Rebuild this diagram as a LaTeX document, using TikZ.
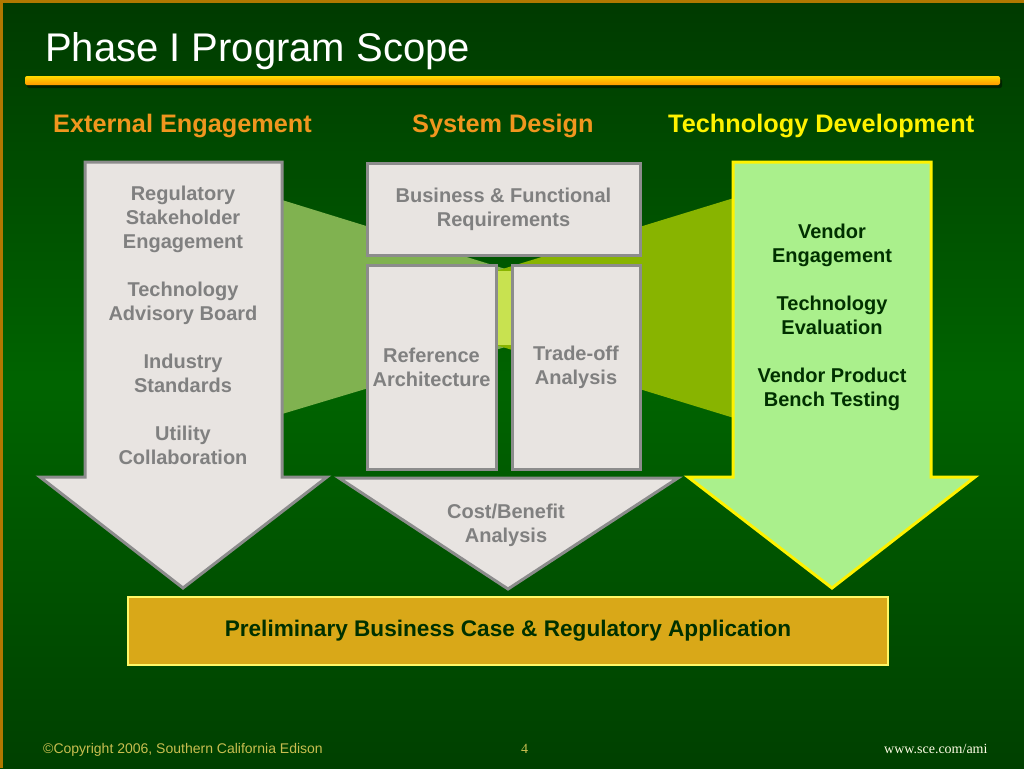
\documentclass[tikz,border=0pt]{standalone}
\usepackage{fontspec}
\setmainfont{Liberation Sans}
\newfontfamily\timesfont{Liberation Serif}
\usepackage{tikz}
\usepackage{xcolor}
\definecolor{bgtop}{RGB}{0,58,0}
\definecolor{bgmid}{RGB}{0,100,0}
\definecolor{bgbot}{RGB}{0,64,0}
\definecolor{frameorange}{RGB}{176,120,0}
\definecolor{headorange}{RGB}{240,150,30}
\definecolor{boxgray}{RGB}{232,228,225}
\definecolor{linegray}{RGB}{140,140,140}
\definecolor{textgray}{RGB}{128,128,128}
\definecolor{techgreen}{RGB}{170,240,140}
\definecolor{darktext}{RGB}{0,48,0}
\definecolor{funnelleft}{RGB}{128,178,80}
\definecolor{funnelright}{RGB}{136,180,0}
\definecolor{funnelmix}{RGB}{200,226,80}
\definecolor{casegold}{RGB}{217,168,24}
\definecolor{footkhaki}{RGB}{200,190,80}
\tikzstyle{graybox}=[fill=boxgray,draw=linegray,line width=3pt]
\tikzstyle{greenbox}=[fill=techgreen,draw=yellow,line width=3pt]
\tikzstyle{boxtext}=[inner sep=0,align=center,font=\bfseries\fontsize{20}{24}\selectfont]
\tikzstyle{header}=[inner sep=0,anchor=base west,font=\bfseries\fontsize{25.3}{28}\selectfont]
\tikzstyle{footer}=[inner sep=0,anchor=base west,font=\fontsize{14}{16}\selectfont]

\begin{document}
\begin{tikzpicture}[x=1pt,y=-1pt]
  \useasboundingbox (0,0) rectangle (1024,768);
  \shade[top color=bgtop,bottom color=bgbot,middle color=bgmid] (0,0) rectangle (1024,768);
  \draw[frameorange,line width=3pt] (1.5,768) -- (1.5,1.5) -- (1024,1.5);

  % title and rule
  \node[inner sep=0,anchor=base west,text=white,font=\fontsize{40}{48}\selectfont] (title) at (45,62) {Phase I Program Scope};
  \fill[black,opacity=0.45,rounded corners=2] (27,79) rectangle (1002,88);
  \shade[top color=yellow!70!orange,bottom color=orange!80!yellow,rounded corners=2] (25,76) rectangle (1000,85);

  % column headers
  \node[header,text=headorange] (ext) at (53,132) {External Engagement};
  \node[header,text=headorange] (sys) at (412,132) {System Design};
  \node[header,text=yellow] (tech) at (668,132) {Technology Development};

  % light funnels behind the middle column
  \fill[funnelleft] (282,200) -- (512,271) -- (512,345) -- (282,414) -- cycle;
  \fill[funnelright] (734,198) -- (496,271) -- (496,345) -- (734,418) -- cycle;
  \fill[funnelmix] (496,271) rectangle (512,345);

  % left arrow
  \draw[graybox] (85,162) -- (282,162) -- (282,477) -- (327,477) -- (183,588)
    -- (40,477) -- (85,477) -- cycle;
  \node[boxtext,text=textgray,anchor=north] (extlist) at (183,186)
    {Regulatory\\Stakeholder\\Engagement\\[24pt]Technology\\Advisory Board\\[24pt]Industry\\Standards\\[24pt]Utility\\Collaboration};

  % middle column
  \draw[graybox] (339,478) -- (678,478) -- (508,589) -- cycle;
  \node[boxtext,text=textgray,anchor=north] (cost) at (506,504) {Cost/Benefit\\Analysis};
  \node[graybox,boxtext,text=textgray,minimum width=273,minimum height=92] (req) at (503.5,209)
    {Business \& Functional\\Requirements};
  \node[graybox,boxtext,text=textgray,minimum width=129,minimum height=204] (arch) at (431.5,367)
    {Reference\\Architecture};
  \node[graybox,boxtext,text=textgray,minimum width=128,minimum height=204] (trade) at (576,367)
    {Trade-off\\Analysis};

  % right arrow
  \draw[greenbox] (733,162) -- (931,162) -- (931,477) -- (975,477) -- (832,588)
    -- (688,477) -- (733,477) -- cycle;
  \node[boxtext,text=darktext,anchor=north] (techlist) at (832,224)
    {Vendor\\Engagement\\[24pt]Technology\\Evaluation\\[24pt]Vendor Product\\Bench Testing};

  % result
  \node[fill=casegold,draw=yellow!60,line width=1.5pt,minimum width=760,minimum height=68,
    text=darktext,font=\bfseries\fontsize{22.6}{26}\selectfont] (case) at (508,631)
    {Preliminary Business Case \& Regulatory Application};

  % footer
  \node[footer,text=footkhaki] (copy) at (43,753) {©Copyright 2006, Southern California Edison};
  \node[footer,text=footkhaki,font=\timesfont\fontsize{14}{16}\selectfont] (page) at (521,753) {4};
  \node[footer,text=white!90!yellow,font=\timesfont\fontsize{14}{16}\selectfont] (web) at (884,753) {www.sce.com/ami};
\end{tikzpicture}
\end{document}
